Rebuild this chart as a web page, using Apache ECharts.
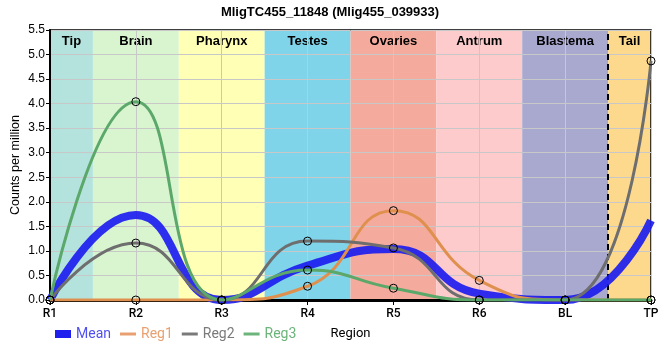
<!DOCTYPE html>
<html><head><meta charset="utf-8">
<script src="https://cdn.jsdelivr.net/npm/echarts@6/dist/echarts.min.js"></script>
<style>html,body{margin:0;padding:0;background:#fff}#c{width:660px;height:360px}</style>
</head><body><div id="c"></div>
<script>
var categories = ['R1','R2','R3','R4','R5','R6','BL','TP'];
var meanVals = [0, 1.73, 0, 0.70, 1.04, 0.13, 0, 1.62];
var reg1Vals = [0, 0, 0, 0.28, 1.82, 0.40, 0, 0];
var reg2Vals = [0, 1.16, 0, 1.20, 1.06, 0, 0, 4.87];
var reg3Vals = [0, 4.04, 0, 0.61, 0.24, 0, 0, 0];
var bandNames = ['Tip','Brain','Pharynx','Testes','Ovaries','Antrum','Blastema','Tail'];
var bandStarts = [0, 0.5, 1.5, 2.5, 3.5, 4.5, 5.5, 6.5];
var bandEnds = [0.5, 1.5, 2.5, 3.5, 4.5, 5.5, 6.5, 7];
var bandColors = ['#b4e3dd','#d8f5d0','#ffffb5','#7fd4ea','#f4aa9c','#fdcbcb','#a9a8cf','#fcd98d'];

function pairs(arr){ return arr.map(function(v,i){ return [i, v]; }); }

var chart = echarts.init(document.getElementById('c'), null, {renderer:'canvas'});
var regColors = {Reg1:'#e0904e', Reg2:'#6e6e6e', Reg3:'#5ba86a'};
var regLegendColors = {Reg1:'#e9a070', Reg2:'#7a7a7a', Reg3:'#6cb47a'};
function regSeries(name, vals){
  return {
    name: name, type: 'line', data: pairs(vals), smooth: 0.5,
    symbol: 'circle', symbolSize: 8, showAllSymbol: true,
    lineStyle: {color: regColors[name], width: 3},
    itemStyle: {color: 'rgba(0,0,0,0)', borderColor: '#000', borderWidth: 1},
    emphasis: {disabled: true}, z: 4
  };
}
var markAreaData = bandNames.map(function(n,i){
  return [{name: n, xAxis: bandStarts[i], itemStyle: {color: bandColors[i]}}, {xAxis: bandEnds[i]}];
});
chart.setOption({
  animation: false,
  title: {text: 'MligTC455_11848 (Mlig455_039933)', left: 'center', top: 1,
    textStyle: {fontFamily: 'Liberation Sans', fontSize: 13, fontWeight: 'bold', color: '#000'}},
  grid: {left: 50, right: 9, top: 30, bottom: 60, show: true, borderColor: '#000', borderWidth: 1.5,
    backgroundColor: 'transparent', containLabel: false, outerBoundsMode: 'none'},
  legend: [
    {data: [{name: 'Mean', itemStyle: {color: '#2020ee', borderWidth: 0}, textStyle: {color: '#5050ee'}}],
     left: 50, top: 322, icon: 'rect', itemWidth: 16, itemHeight: 8, itemGap: 10,
     textStyle: {fontFamily: 'Roboto', fontSize: 14}, selectedMode: false},
    {data: ['Reg1','Reg2','Reg3'].map(function(n){ return {name: n, itemStyle: {color: regLegendColors[n], borderWidth: 0, borderColor: regLegendColors[n]}, textStyle: {color: regLegendColors[n]}}; }),
     left: 115, top: 322, icon: 'rect', itemWidth: 16, itemHeight: 3, itemGap: 9,
     textStyle: {fontFamily: 'Roboto', fontSize: 14}, selectedMode: false}
  ],
  xAxis: {
    type: 'value', min: 0, max: 7, interval: 1, z: 1.5,
    name: 'Region', nameLocation: 'middle', nameGap: 27, nameMoveOverlap: false,
    nameTextStyle: {fontFamily: 'Roboto', fontSize: 13, color: '#000'},
    axisLine: {show: true, lineStyle: {color: '#000', width: 3}},
    axisTick: {show: true, length: 5, lineStyle: {color: '#000'}},
    axisLabel: {formatter: function(v){ return categories[v] || ''; }, fontFamily: 'Roboto', fontSize: 12, fontWeight: 500, color: '#000', margin: 8},
    splitLine: {show: true, lineStyle: {color: '#c8c8c8', width: 1}}
  },
  yAxis: {
    type: 'value', min: 0, max: 5.5, interval: 0.5, z: 1.5,
    name: 'Counts per million', nameLocation: 'middle', nameGap: 28, nameMoveOverlap: false,
    nameTextStyle: {fontFamily: 'Liberation Sans', fontSize: 12.5, color: '#000'},
    axisLine: {show: true, lineStyle: {color: '#000', width: 2}},
    axisTick: {show: true, length: 4, lineStyle: {color: '#000'}},
    axisLabel: {formatter: function(v){ return v.toFixed(1); }, fontFamily: 'Liberation Sans', fontSize: 12, color: '#000', margin: 5},
    splitLine: {show: true, lineStyle: {color: '#c8c8c8', width: 1}}
  },
  series: [
    {
      name: 'bands', type: 'line', data: [], z: -1, silent: true,
      markArea: {silent: true, z: -1, data: markAreaData,
        label: {show: true, position: 'insideTop', distance: 5, fontFamily: 'Liberation Sans', fontSize: 13, fontWeight: 'bold', color: '#000'}},
      markLine: {silent: true, symbol: 'none', z: 3, data: [{xAxis: 6.5}],
        lineStyle: {color: '#000', type: [6, 4], width: 2}, label: {show: false}}
    },
    {
      name: 'Mean', type: 'line', data: pairs(meanVals), smooth: 0.5, symbol: 'none',
      lineStyle: {color: 'rgba(25,25,240,0.9)', width: 8}, itemStyle: {color: '#2222ee'},
      emphasis: {disabled: true}, z: 3
    },
    regSeries('Reg1', reg1Vals),
    regSeries('Reg2', reg2Vals),
    regSeries('Reg3', reg3Vals)
  ]
});
</script></body></html>
